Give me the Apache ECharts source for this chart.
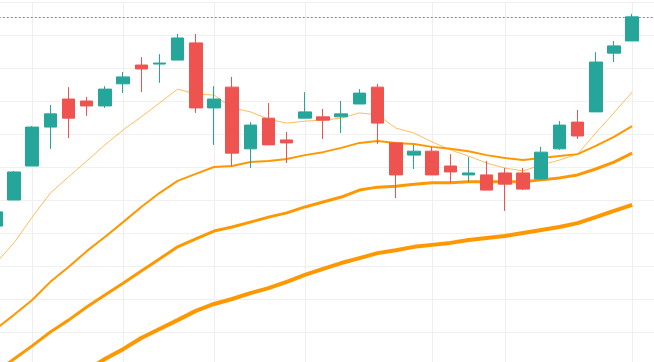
<!DOCTYPE html>
<html>
<head>
<meta charset="utf-8">
<script src="https://cdn.jsdelivr.net/npm/echarts@6/dist/echarts.min.js"></script>
<style>
html,body{margin:0;padding:0;background:#fff;}
#chart{width:654px;height:362px;}
</style>
</head>
<body>
<div id="chart"></div>
<script>
// Categories (trading days); last one is an empty right-margin slot
const categories = [
  '2024-01-02','2024-01-03','2024-01-04','2024-01-05','2024-01-08','2024-01-09','2024-01-10','2024-01-11',
  '2024-01-12','2024-01-15','2024-01-16','2024-01-17','2024-01-18','2024-01-19','2024-01-22','2024-01-23',
  '2024-01-24','2024-01-25','2024-01-26','2024-01-29','2024-01-30','2024-01-31','2024-02-01','2024-02-02',
  '2024-02-05','2024-02-06','2024-02-07','2024-02-08','2024-02-09','2024-02-12','2024-02-13','2024-02-14',
  '2024-02-15','2024-02-16','2024-02-19','2024-02-20','2024-02-21'
];
// Indices of categories where vertical grid lines are drawn
const gridLineIndices = [2, 7, 12, 17, 24, 28, 35];

// OHLC: [open, close, low, high]
const ohlc = [
  [23.21,23.64,23.15,23.70],
  [24.00,24.85,24.00,24.88],
  [25.03,26.21,25.03,26.24],
  [26.21,26.61,25.55,26.88],
  [27.06,26.48,25.88,27.42],
  [27.00,26.85,26.55,27.12],
  [26.85,27.36,26.79,27.45],
  [27.52,27.73,27.24,27.88],
  [28.09,27.97,27.27,28.33],
  [28.12,28.15,27.55,28.42],
  [28.24,28.91,28.24,29.03],
  [28.76,26.79,26.64,29.03],
  [26.79,27.06,25.67,27.45],
  [27.42,25.42,25.03,27.73],
  [25.55,26.27,24.97,26.36],
  [26.48,25.67,25.67,26.94],
  [25.82,25.73,25.12,26.06],
  [26.48,26.67,26.48,27.27],
  [26.52,26.42,25.85,26.76],
  [26.52,26.61,26.03,27.00],
  [26.91,27.24,26.91,27.36],
  [27.42,26.33,25.70,27.52],
  [25.73,24.76,24.06,25.76],
  [25.36,25.48,24.94,25.67],
  [25.48,24.76,24.76,25.61],
  [25.03,24.85,24.52,25.39],
  [24.76,24.82,24.55,25.30],
  [24.76,24.30,24.30,25.18],
  [24.82,24.48,23.67,24.97],
  [24.82,24.33,24.30,24.97],
  [24.64,25.45,24.61,25.61],
  [25.55,26.27,25.52,26.39],
  [26.36,25.94,25.85,26.73],
  [26.67,28.18,26.67,28.48],
  [28.45,28.67,28.18,28.82],
  [28.82,29.55,28.82,29.64],
  '-'
];

const ma5 = [22.09,22.70,23.48,24.21,24.70,25.18,25.67,26.12,26.52,26.94,27.36,27.21,27.18,26.79,26.67,26.45,26.33,26.39,26.42,26.48,26.64,26.58,26.18,26.03,25.76,25.52,25.33,25.12,24.97,24.88,25.06,25.21,25.39,26.03,26.64,27.27,'-'];
const ma10 = [20.09,20.52,20.97,21.52,21.97,22.45,22.88,23.33,23.79,24.21,24.58,24.79,25.00,25.03,25.15,25.18,25.24,25.36,25.45,25.58,25.73,25.79,25.73,25.70,25.61,25.55,25.48,25.36,25.27,25.21,25.27,25.33,25.39,25.64,25.91,26.24,'-'];
const ma20 = [18.79,19.18,19.58,20.00,20.36,20.76,21.12,21.48,21.85,22.21,22.58,22.82,23.06,23.18,23.33,23.48,23.61,23.79,23.94,24.09,24.30,24.39,24.42,24.48,24.52,24.52,24.55,24.55,24.55,24.55,24.61,24.67,24.76,24.94,25.15,25.42,'-'];
const ma30 = [17.18,17.52,17.85,18.18,18.52,18.85,19.18,19.48,19.82,20.09,20.36,20.64,20.85,21.00,21.18,21.33,21.52,21.73,21.91,22.09,22.24,22.39,22.48,22.58,22.64,22.70,22.79,22.85,22.91,23.00,23.09,23.18,23.30,23.48,23.67,23.85,'-'];

const lastClose = 29.55;

const UP = '#26a69a', DOWN = '#ef5350';
const chart = echarts.init(document.getElementById('chart'), null, {renderer: 'canvas'});
const bandW = 18.18;
const gridLeft = 14 - 1.5 * bandW;
const gridWidth = categories.length * bandW;

function maLine(name, data, width, color) {
  return {
    name, type: 'line', data, symbol: 'none', smooth: false,
    lineStyle: {width, color}, itemStyle: {color}, z: 3, silent: true
  };
}

chart.setOption({
  animation: false,
  backgroundColor: '#ffffff',
  grid: {left: gridLeft, top: 2, width: gridWidth, height: 14 * 33, containLabel: false, outerBoundsMode: 'none'},
  xAxis: {
    type: 'category', data: categories, boundaryGap: true,
    axisLine: {show: false}, axisTick: {show: false, alignWithLabel: true}, axisLabel: {show: false},
    splitLine: {show: true, alignWithLabel: true, interval: (i) => gridLineIndices.includes(i), lineStyle: {color: '#efefef', width: 1}}
  },
  yAxis: {
    type: 'value', min: 16, max: 30, interval: 1,
    axisLine: {show: false}, axisTick: {show: false}, axisLabel: {show: false},
    splitLine: {show: true, lineStyle: {color: '#f0f0f0', width: 1}}
  },
  series: [
    {
      name: 'K', type: 'candlestick', data: ohlc, barWidth: 13, z: 4,
      itemStyle: {color: UP, color0: DOWN, borderColor: UP, borderColor0: DOWN, borderWidth: 1},
      markLine: {
        silent: true, symbol: ['none', 'none'], label: {show: false},
        lineStyle: {color: UP, type: [2, 2], width: 1, opacity: 0.9},
        data: [{yAxis: lastClose}]
      }
    },
    maLine('MA5', ma5, 1, 'rgba(255,167,38,0.75)'),
    maLine('MA10', ma10, 2, '#ff9800'),
    maLine('MA20', ma20, 3, '#ff9800'),
    maLine('MA30', ma30, 4, '#ff9800')
  ]
});
</script>
</body>
</html>
